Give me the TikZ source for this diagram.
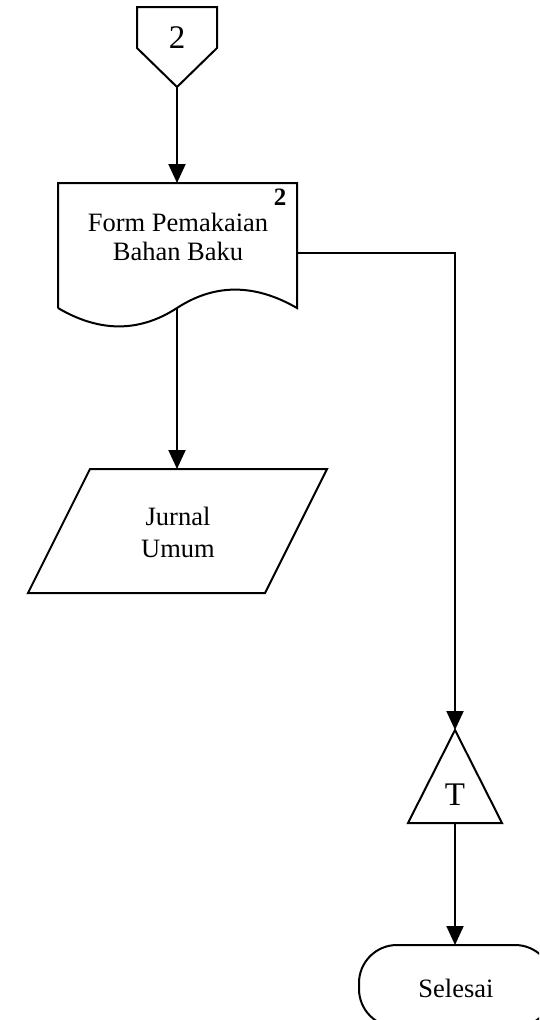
\documentclass[tikz,border=0pt]{standalone}
\usepackage{fontspec}
\setmainfont{Liberation Serif}
\usetikzlibrary{arrows.meta}
\begin{document}
\begin{tikzpicture}[x=1pt,y=-1pt,
  shapeline/.style={draw=black,line width=2pt,line join=miter},
  flow/.style={draw=black,line width=2pt,-{Triangle[length=19pt,width=17pt]}},
  lbl/.style={font=\fontsize{26.5}{30}\selectfont,inner sep=0pt,anchor=base},
  biglbl/.style={font=\fontsize{33}{36}\selectfont,inner sep=0pt,anchor=base}]
\useasboundingbox (0,0) rectangle (539,1020);
\clip (0,0) rectangle (539,1020);
% off-page connector
\draw[shapeline] (137,7) -- (217,7) -- (217,48) -- (177,87) -- (137,48) -- cycle;
\node[biglbl] (off) at (177,48) {2};
\coordinate (offtip) at (177,87);
% document
\draw[shapeline] (58,308) -- (58,183) -- (297,183) -- (297,308)
  .. controls (257,285) and (217,282) .. (177,308)
  .. controls (137,334) and (97,331) .. (58,308);
\node[lbl] (doca) at (178,231) {Form Pemakaian};
\node[lbl] (docb) at (178,260) {Bahan Baku};
\node[font=\bfseries\fontsize{25}{28}\selectfont,inner sep=0pt,anchor=base] (docnum) at (280,205) {2};
\coordinate (doctop) at (177,183);
\coordinate (docbot) at (177,308);
\coordinate (docright) at (297,253);
% parallelogram
\draw[shapeline] (90,469) -- (327,469) -- (265,593) -- (28,593) -- cycle;
\node[lbl] (jurnala) at (178,525) {Jurnal};
\node[lbl] (jurnalb) at (178,557) {Umum};
\coordinate (jtop) at (177,469);
% triangle
\draw[shapeline] (455,730) -- (502,823) -- (408,823) -- cycle;
\node[biglbl] (t) at (455,805) {T};
\coordinate (ttop) at (455,730);
\coordinate (tbot) at (455,823);
\coordinate (bend) at (455,253);
% terminal
\draw[shapeline,rounded corners=38pt] (359,945) rectangle (553,1027);
\node[lbl] (end) at (456,997) {Selesai};
\coordinate (endtop) at (455,945);
% connectors
\draw[flow] (offtip) -- (doctop);
\draw[flow] (docbot) -- (jtop);
\draw[flow] (docright) -- (bend) -- (ttop);
\draw[flow] (tbot) -- (endtop);
\end{tikzpicture}
\end{document}
